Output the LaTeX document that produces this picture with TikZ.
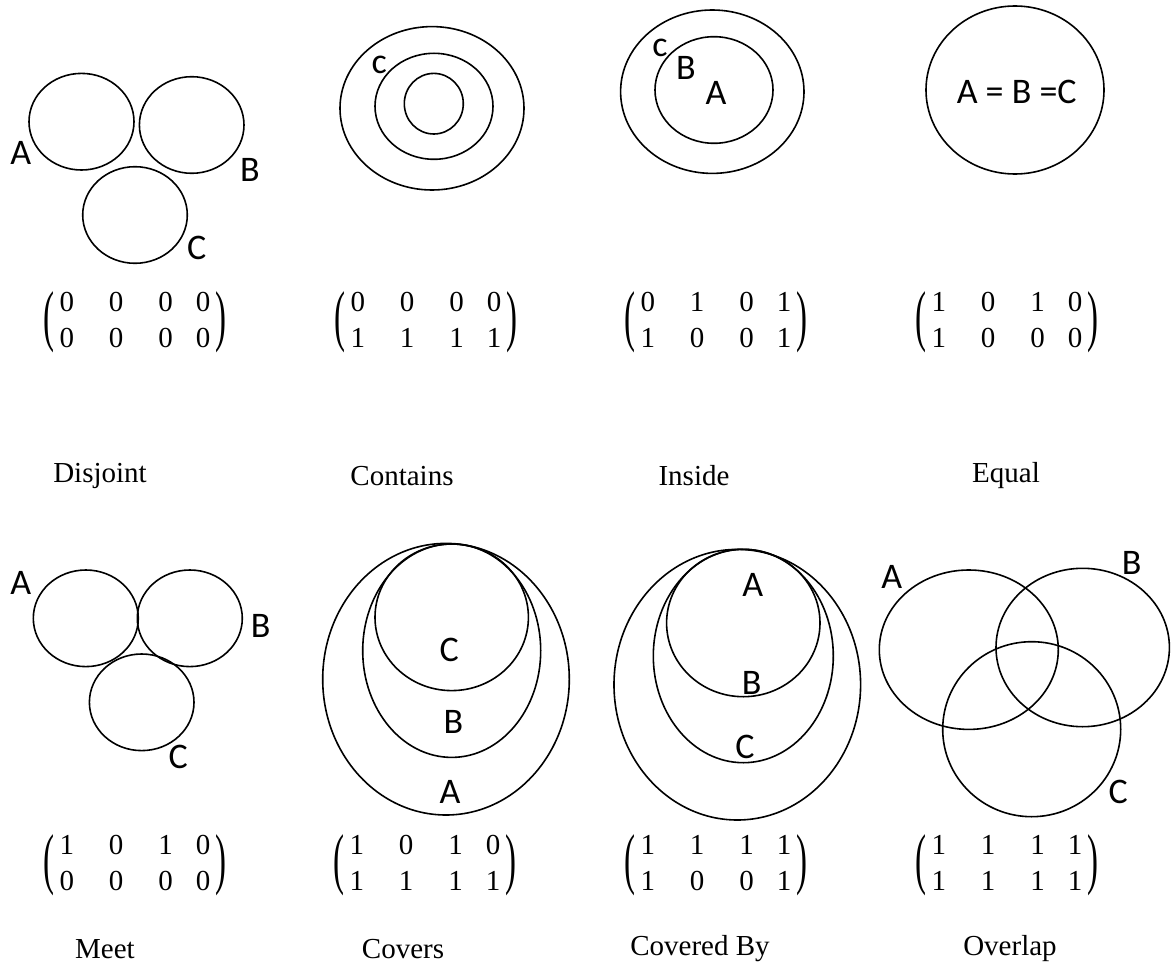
\documentclass[tikz,border=0pt]{standalone}
\usepackage{fontspec}
\usepackage{graphicx}
\setmainfont{Liberation Serif}
\newfontfamily\sansf{Carlito}
\tikzset{
  shape line/.style={line width=1.6pt},
  letter/.style={font=\sansf\fontsize{36}{40}\selectfont, inner sep=0pt},
  caption/.style={font=\fontsize{29}{34}\selectfont, inner sep=0pt},
  matrixlbl/.style={font=\fontsize{29}{36}\selectfont, inner sep=0pt},
  paren/.style={font=\fontsize{33}{33}\selectfont, inner sep=0pt}
}
\newcommand{\relmat}[4]{%
  \node[matrixlbl] (#1) at (#2,#3) {\begin{tabular}{@{}c@{\hspace{35pt}}c@{\hspace{35pt}}c@{\hspace{23pt}}c@{}}#4\end{tabular}};
  \node[paren] (#1l) at ([xshift=-86pt]#1.center) {\scalebox{1}[2.05]{(}};
  \node[paren] (#1r) at ([xshift=86pt]#1.center) {\scalebox{1}[2.05]{)}};
}
\begin{document}
\begin{tikzpicture}[x=1pt,y=-1pt]
\useasboundingbox (0,0) rectangle (1176,971);
% ---------- Disjoint
\draw[shape line] (81.5,121.7) ellipse [x radius=52.5, y radius=48.3];
\draw[shape line] (191.7,125) ellipse [x radius=52.3, y radius=48.3];
\draw[shape line] (135,215) ellipse [x radius=52.3, y radius=48.3];
\node[letter] (dA) at (20.7,153) {A};
\node[letter] (dB) at (250,170) {B};
\node[letter] (dC) at (196.7,248) {C};
\relmat{dM}{135}{322}{0&0&0&0\\0&0&0&0}
\node[caption] (dL) at (100,476) {Disjoint};
% ---------- Contains
\draw[shape line] (432,108.3) ellipse [x radius=92, y radius=81.7];
\draw[shape line] (434,106.3) ellipse [x radius=59, y radius=53];
\draw[shape line] (433.8,103.7) ellipse [x radius=29.5, y radius=30.3];
\node[letter] (cC) at (379.3,65) {c};
\relmat{cM}{426}{322}{0&0&0&0\\1&1&1&1}
\node[caption] (cL) at (402,476) {Contains};
% ---------- Inside
\draw[shape line] (712.3,91.7) ellipse [x radius=91.7, y radius=81.7];
\draw[shape line] (714,90) ellipse [x radius=59, y radius=53.3];
\node[letter] (iC) at (660,48.3) {c};
\node[letter] (iB) at (686,68.3) {B};
\node[letter] (iA) at (716,93.3) {A};
\relmat{iM}{716}{322}{0&1&0&1\\1&0&0&1}
\node[caption] (iL) at (694,476) {Inside};
% ---------- Equal
\draw[shape line] (1015,90) ellipse [x radius=89, y radius=84];
\node[letter] (eT) at (1016.7,91.7) {A = B =C};
\relmat{eM}{1007}{322}{1&0&1&0\\1&0&0&0}
\node[caption] (eL) at (1006,476) {Equal};
% ---------- Meet
\draw[shape line] (85.8,618.3) ellipse [x radius=52.5, y radius=48.3];
\draw[shape line] (189.8,618.3) ellipse [x radius=52.5, y radius=48.3];
\draw[shape line] (141.7,702.3) ellipse [x radius=52.3, y radius=48.3];
\node[letter] (mA) at (20.7,583.3) {A};
\node[letter] (mB) at (260.7,626) {B};
\node[letter] (mC) at (178.3,756.7) {C};
\relmat{mM}{135}{865}{1&0&1&0\\0&0&0&0}
\node[caption] (mL) at (105,949) {Meet};
% ---------- Covers
\draw[shape line] (446,679.2) ellipse [x radius=123.3, y radius=135.8];
\draw[shape line] (451.7,650.7) ellipse [x radius=89, y radius=106.7];
\draw[shape line] (451.7,617.3) ellipse [x radius=76.7, y radius=73.3];
\node[letter] (vC) at (449.3,650) {C};
\node[letter] (vB) at (453.3,721.7) {B};
\node[letter] (vA) at (450,791.7) {A};
\relmat{vM}{425}{865}{1&0&1&0\\1&1&1&1}
\node[caption] (vL) at (403,949) {Covers};
% ---------- Covered By
\draw[shape line] (737.3,684.7) ellipse [x radius=123.3, y radius=135.3];
\draw[shape line] (743.3,656) ellipse [x radius=90, y radius=106.7];
\draw[shape line] (743.3,623) ellipse [x radius=76.7, y radius=73.7];
\node[letter] (bA) at (752.7,585) {A};
\node[letter] (bB) at (751.7,683.3) {B};
\node[letter] (bC) at (745,746.7) {C};
\relmat{bM}{716}{865}{1&1&1&1\\1&0&0&1}
\node[caption] (bL) at (700,949) {Covered By};
% ---------- Overlap
\draw[shape line] (968.8,649.7) ellipse [x radius=89.5, y radius=79.7];
\draw[shape line] (1082.7,647.5) ellipse [x radius=86.7, y radius=79.2];
\draw[shape line] (1031.7,729.2) ellipse [x radius=89, y radius=87.5];
\node[letter] (oA) at (891.7,576.7) {A};
\node[letter] (oB) at (1131.7,563.3) {B};
\node[letter] (oC) at (1118.3,791.7) {C};
\relmat{oM}{1007}{865}{1&1&1&1\\1&1&1&1}
\node[caption] (oL) at (1010,949) {Overlap};
\end{tikzpicture}
\end{document}
